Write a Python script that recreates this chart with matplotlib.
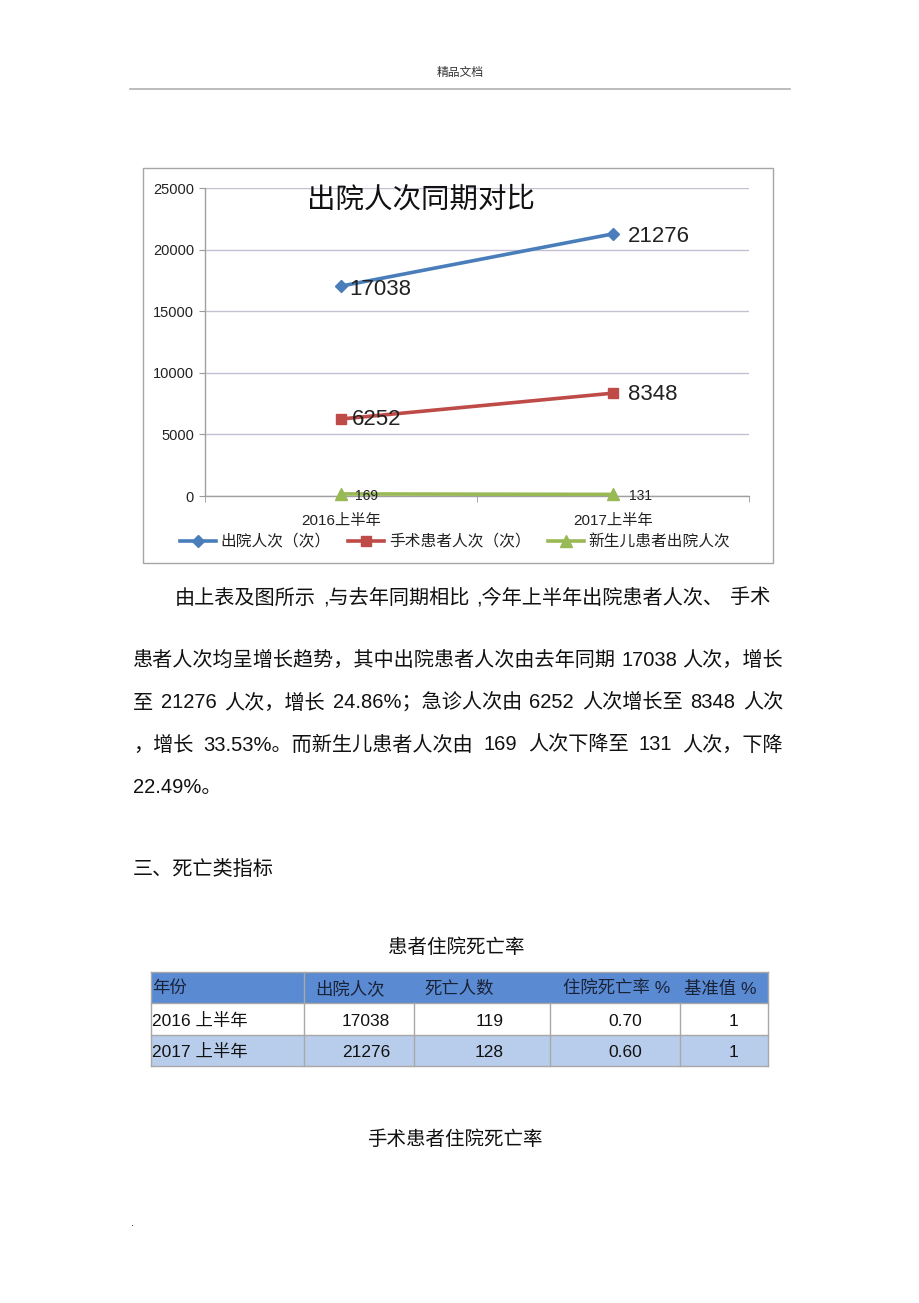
import matplotlib
matplotlib.use('Agg')
import matplotlib.pyplot as plt
from matplotlib.patches import Rectangle
from matplotlib.lines import Line2D

plt.rcParams['font.family'] = ['Liberation Sans', 'Noto Sans CJK SC', 'DejaVu Sans']

W, H = 920, 1303

# ---------------- data ----------------
categories = ['2016上半年', '2017上半年']
discharges = [17038, 21276]
surgery = [6252, 8348]
newborn = [169, 131]
series_names = ['出院人次（次）', '手术患者人次（次）', '新生儿患者出院人次']
yticks = [0, 5000, 10000, 15000, 20000, 25000]
chart_title = '出院人次同期对比'

table_header = ['年份', '出院人次', '死亡人数', '住院死亡率 %', '基准值 %']
table_years = ['2016 上半年', '2017 上半年']
table_discharges = ['17038', '21276']
table_deaths = ['119', '128']
table_rate = ['0.70', '0.60']
table_base = ['1', '1']

paragraph = [
    '由上表及图所示 ,与去年同期相比 ,今年上半年出院患者人次、 手术',
    '患者人次均呈增长趋势，其中出院患者人次由去年同期 17038 人次，增长',
    '至 21276 人次，增长 24.86%；急诊人次由 6252 人次增长至 8348 人次',
    '，增长 33.53%。而新生儿患者人次由 169 人次下降至 131 人次，下降',
    '22.49%。',
]
heading = '三、死亡类指标'
table_title = '患者住院死亡率'
next_title = '手术患者住院死亡率'
page_header = '精品文档'

# ---------------- figure ----------------
fig = plt.figure(figsize=(W / 100, H / 100), dpi=100)
renderer = fig.canvas.get_renderer()


def fx(x):
    return x / W


def fy(y):
    return 1 - y / H


def T(x, y, s, **kw):
    kw.setdefault('va', 'center')
    return fig.text(fx(x), fy(y), s, **kw)


def justified(x0, x1, y, line, **kw):
    """Draw a line of text stretched to span x0..x1 by widening its spaces."""
    tokens = line.split(' ')
    texts = [T(x0, y, tok, ha='left', **kw) for tok in tokens]
    widths = [t.get_window_extent(renderer).width for t in texts]
    if len(tokens) == 1:
        return
    gap = (x1 - x0 - sum(widths)) / (len(tokens) - 1)
    cx = x0
    for t, w in zip(texts, widths):
        t.set_x(fx(cx))
        cx += w + gap


# page header
T(460, 73, page_header, ha='center', fontsize=8.5, color='#333333')
fig.add_artist(Line2D([fx(130), fx(790)], [fy(89), fy(89)], transform=fig.transFigure,
                      color='#B0B0B0', lw=1.2))

# chart frame
fig.add_artist(Rectangle((fx(143), fy(563)), (773 - 143) / W, (563 - 168) / H,
                         transform=fig.transFigure, fill=False, edgecolor='#A6A6A6', lw=1))

ax = fig.add_axes([fx(205), fy(496), (749 - 205) / W, (496 - 188) / H])
ax.set_xlim(-0.5, 1.5)
ax.set_ylim(0, 25000)
x = list(range(len(categories)))

blue, red, green = '#4A7EBB', '#BE4B48', '#98B954'
l1, = ax.plot(x, discharges, color=blue, lw=2.6, marker='D', ms=6.5, clip_on=False, zorder=3)
l2, = ax.plot(x, surgery, color=red, lw=2.6, marker='s', ms=7.5, clip_on=False, zorder=3)
l3, = ax.plot(x, newborn, color=green, lw=2.6, marker='^', ms=8, clip_on=False, zorder=3)

for xi, v in zip(x, discharges):
    ax.annotate(str(v), (xi, v), xytext=(8 if xi == 0 else 15, -3), textcoords='offset pixels',
                ha='left', va='center', fontsize=16, color='#222222')
for xi, v in zip(x, surgery):
    ax.annotate(str(v), (xi, v), xytext=(11 if xi == 0 else 15, -1), textcoords='offset pixels',
                ha='left', va='center', fontsize=16, color='#222222')
for xi, v in zip(x, newborn):
    ax.annotate(str(v), (xi, v), xytext=(14 if xi == 0 else 16, -2), textcoords='offset pixels',
                ha='left', va='center', fontsize=10, color='#222222')

ax.set_yticks(yticks)
ax.set_yticklabels([str(t) for t in yticks])
ax.set_xticks(x)
ax.set_xticklabels(categories)
ax.set_xticks([-0.5, 0.5, 1.5], minor=True)
ax.tick_params(axis='x', which='major', length=0, pad=13, labelsize=11, colors='#222222')
ax.tick_params(axis='x', which='minor', length=4, color='#9A9A9A', direction='out')
ax.tick_params(axis='y', length=4, color='#9A9A9A', pad=4, labelsize=10.5, labelcolor='#222222')
ax.yaxis.grid(True, color='#C6BFD2', lw=1)
ax.set_axisbelow(True)
for s in ['top', 'right']:
    ax.spines[s].set_visible(False)
for s in ['left', 'bottom']:
    ax.spines[s].set_color('#A0A0A0')
    ax.spines[s].set_linewidth(1)

T(421, 200, chart_title, ha='center', fontsize=20.5, color='#111111')

ax.legend([l1, l2, l3], series_names, loc='center', bbox_to_anchor=(fx(455), fy(542)),
          bbox_transform=fig.transFigure, ncol=3, frameon=False, fontsize=11.3,
          handlelength=2.3, handletextpad=0.3, columnspacing=1.1, labelcolor='#222222')

# paragraph
body_kw = dict(fontsize=14.5, color='#111111')
justified(175, 770, 598, paragraph[0], **body_kw)
for yy, line in zip([660, 703, 745], paragraph[1:4]):
    justified(133, 783, yy, line, **body_kw)
T(133, 788, paragraph[4], ha='left', **body_kw)
T(133, 869, heading, ha='left', **body_kw)
T(456, 948, table_title, ha='center', fontsize=14, color='#111111')

# table
cols = [151, 304, 414, 550, 680, 768]
rows = [972, 1003, 1035, 1066]
fills = ['#5A8AD2', '#FFFFFF', '#B8CDEB']
for r in range(3):
    fig.add_artist(Rectangle((fx(cols[0]), fy(rows[r + 1])), (cols[-1] - cols[0]) / W,
                             (rows[r + 1] - rows[r]) / H, transform=fig.transFigure,
                             facecolor=fills[r], edgecolor='none'))
# grid lines
for yy in rows:
    fig.add_artist(Line2D([fx(cols[0]), fx(cols[-1])], [fy(yy), fy(yy)], transform=fig.transFigure,
                          color='#A8A8A8', lw=1))
fig.add_artist(Line2D([fx(cols[0]), fx(cols[0])], [fy(rows[0]), fy(rows[-1])],
                      transform=fig.transFigure, color='#A8A8A8', lw=1))
fig.add_artist(Line2D([fx(cols[-1]), fx(cols[-1])], [fy(rows[0]), fy(rows[-1])],
                      transform=fig.transFigure, color='#A8A8A8', lw=1))
fig.add_artist(Line2D([fx(cols[1]), fx(cols[1])], [fy(rows[0]), fy(rows[-1])],
                      transform=fig.transFigure, color='#A8A8A8', lw=1))
for c in cols[2:-1]:
    fig.add_artist(Line2D([fx(c), fx(c)], [fy(rows[1]), fy(rows[-1])],
                          transform=fig.transFigure, color='#A8A8A8', lw=1))

head_x = [152, 315, 424, 563, 684]
hy = (rows[0] + rows[1]) / 2
for hx, h in zip(head_x, table_header):
    T(hx, hy + 1, h, ha='left', fontsize=12.5, color='#1A2238')

right_x = [390, 504, 642, 738]
for i in range(2):
    yy = (rows[i + 1] + rows[i + 2]) / 2 + 2
    T(152, yy, table_years[i], ha='left', fontsize=12.5, color='#111111')
    vals = [table_discharges[i], table_deaths[i], table_rate[i], table_base[i]]
    for rx, v in zip(right_x, vals):
        T(rx, yy, v, ha='right', fontsize=12.5, color='#111111')

T(455, 1140, next_title, ha='center', fontsize=14, color='#111111')
T(132, 1223, '.', ha='center', fontsize=8, color='#111111')

fig.savefig('out.png', dpi=100)
